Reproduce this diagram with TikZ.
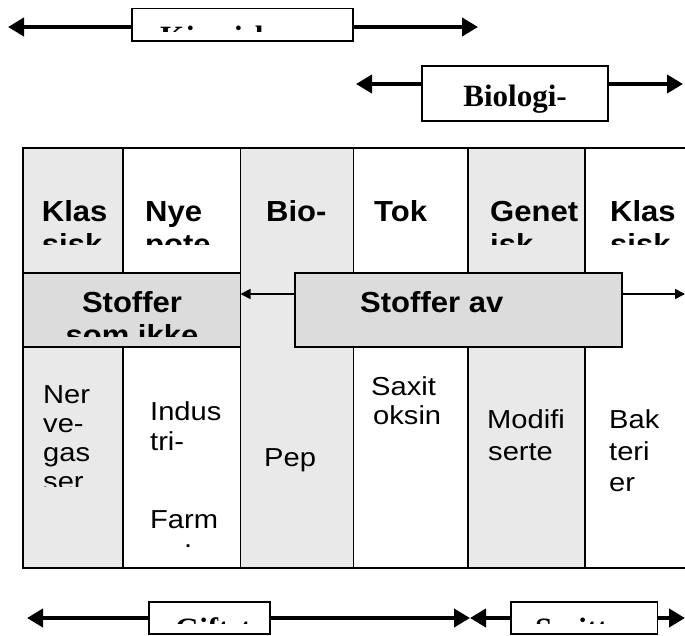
\documentclass[tikz,border=0pt]{standalone}
\usepackage{fontspec}
\setmainfont{Liberation Sans}
\newfontfamily\hdfont[FakeStretch=1.07]{Liberation Sans}
\newfontfamily\bdfont[FakeStretch=1.12]{Liberation Sans}
\newfontfamily\serifb{Liberation Serif}
\usetikzlibrary{arrows.meta}
\definecolor{colgrey}{HTML}{E9E9E9}
\definecolor{boxgrey}{HTML}{DCDCDC}
\begin{document}
\begin{tikzpicture}[x=1pt,y=-1pt,
  cell/.style={draw=black, line width=1.8pt, inner sep=0pt, outer sep=0pt, anchor=north west},
  lbox/.style={draw=black, line width=1.6pt, fill=white, inner sep=0pt, outer sep=0pt, anchor=north west},
  hd/.style={font=\hdfont\fontsize{29}{33}\selectfont\bfseries, inner sep=0pt, anchor=base west},
  bd/.style={font=\bdfont\fontsize{26}{30}\selectfont, inner sep=0pt, anchor=base west},
  lab/.style={font=\serifb\bfseries\fontsize{31}{35}\selectfont, inner sep=0pt, anchor=base west},
  thick arrow/.style={line width=4.5pt, -{Triangle[length=16pt,width=18pt]}},
  thin arrow/.style={line width=1.6pt, -{Triangle[length=10pt,width=10pt]}}]
\useasboundingbox (0,0) rectangle (685,635);
\fill[white] (0,0) rectangle (685,635);

% columns
\node[cell, fill=colgrey, minimum width=99.7pt, minimum height=124.7pt] (c1t) at (23,148) {};
\node[cell, fill=colgrey, minimum width=99.7pt, minimum height=221.3pt] (c1b) at (23,346.7) {};
\node[cell, fill=white, minimum width=117.8pt, minimum height=124.7pt] (c2t) at (122.7,148) {};
\node[cell, fill=white, minimum width=117.8pt, minimum height=221.3pt] (c2b) at (122.7,346.7) {};
\node[cell, fill=colgrey, minimum width=113pt, minimum height=420pt] (c3) at (240.5,148) {};
\node[cell, fill=white, minimum width=114.5pt, minimum height=420pt] (c4) at (353.5,148) {};
\node[cell, fill=colgrey, minimum width=117pt, minimum height=420pt] (c5) at (468,148) {};
\node[cell, fill=white, minimum width=115pt, minimum height=420pt] (c6) at (585,148) {};

% middle boxes
\node[cell, fill=boxgrey, minimum width=217.5pt, minimum height=74pt] (bikke) at (23,272.7) {};
\node[cell, fill=boxgrey, minimum width=326.7pt, minimum height=74pt] (bav) at (295,272.7) {};

\coordinate (aL) at (295,294);
\coordinate (aR) at (685,294);
\draw[thin arrow] (aL) -- (aL -| bikke.east);
\draw[thin arrow] (aR -| bav.east) -- (aR);

% header texts
\node[hd] (h1) at (41.7,221) {Klas};
\node[hd] (h2) at (145,221) {Nye};
\node[hd] (h3) at (266,221) {Bio-};
\node[hd] (h4) at (374,221) {Tok};
\node[hd] (h5) at (490,221) {Genet};
\node[hd] (h6) at (610,221) {Klas};
\begin{scope}
  \clip (0,148) rectangle (685,244);
  \node[hd] (h1b) at (41.7,254) {sisk};
  \node[hd] (h2b) at (145,254) {pote};
  \node[hd] (h5b) at (490,254) {isk};
  \node[hd] (h6b) at (610,254) {sisk};
\end{scope}

% middle box texts
\node[hd, anchor=base] (s1) at (132,312) {Stoffer};
\begin{scope}
  \clip (23,272.7) rectangle (240.5,336);
  \node[hd, anchor=base] (s1b) at (132,345) {som ikke};
\end{scope}
\node[hd] (s2) at (360,312) {Stoffer av};

% bottom texts
\node[bd] (n1) at (43,403) {Ner};
\node[bd] (n2) at (43,432) {ve-};
\node[bd] (n3) at (43,461) {gas};
\begin{scope}
  \clip (23,346.7) rectangle (122.7,486);
  \node[bd] (n4) at (43,490) {ser};
\end{scope}
\node[bd] (i1) at (150,420) {Indus};
\node[bd] (i2) at (150,450) {tri-};
\node[bd] (i3) at (150,528) {Farm};
\node[bd] (i4) at (184,547) {.};
\node[bd] (p1) at (264,466) {Pep};
\node[bd] (x1) at (371,395) {Saxit};
\node[bd] (x2) at (373,424) {oksin};
\node[bd] (m1) at (487,428) {Modifi};
\node[bd] (m2) at (488,460) {serte};
\node[bd] (k1) at (609,428) {Bak};
\node[bd] (k2) at (609,460) {teri};
\node[bd] (k3) at (609,491) {er};

% top label with arrows
\node[lbox, minimum width=221pt, minimum height=32.7pt] (top) at (132,8.3) {};
\begin{scope}
  \clip (132,8.3) rectangle (353,31);
  \node[lab] (topt) at (160,47.5) {Kjemiske};
\end{scope}
\coordinate (tL) at (8,27);
\coordinate (tR) at (478,27);
\draw[thick arrow] (tL -| top.west) -- (tL);
\draw[thick arrow] (tR -| top.east) -- (tR);

\node[lbox, minimum width=186pt, minimum height=55pt] (bio) at (422,66) {};
\node[lab, anchor=base] (biot) at (515,106) {Biologi-};
\coordinate (bL) at (356,84);
\coordinate (bR) at (683,84);
\draw[thick arrow] (bL -| bio.west) -- (bL);
\draw[thick arrow] (bR -| bio.east) -- (bR);

% bottom labels with arrows
\node[lbox, minimum width=121pt, minimum height=32.3pt] (gift) at (149,601.7) {};
\begin{scope}
  \clip (149,601.7) rectangle (250,623);
  \node[lab] (giftt) at (175,639) {Giftstoffer};
\end{scope}
\node[lbox, minimum width=146.5pt, minimum height=32.3pt] (smitt) at (511,601.7) {};
\begin{scope}
  \clip (511,601.7) rectangle (608,623);
  \node[lab] (smittt) at (535,639) {Smittestoffer};
\end{scope}
\coordinate (gL) at (27,618);
\coordinate (gM) at (470,618);
\coordinate (gR) at (685,618);
\draw[thick arrow] (gL -| gift.west) -- (gL);
\draw[thick arrow] (gM -| gift.east) -- (gM);
\draw[thick arrow] (gM -| smitt.west) -- (gM);
\draw[thick arrow] (gR -| smitt.east) -- (gR);
\end{tikzpicture}
\end{document}
